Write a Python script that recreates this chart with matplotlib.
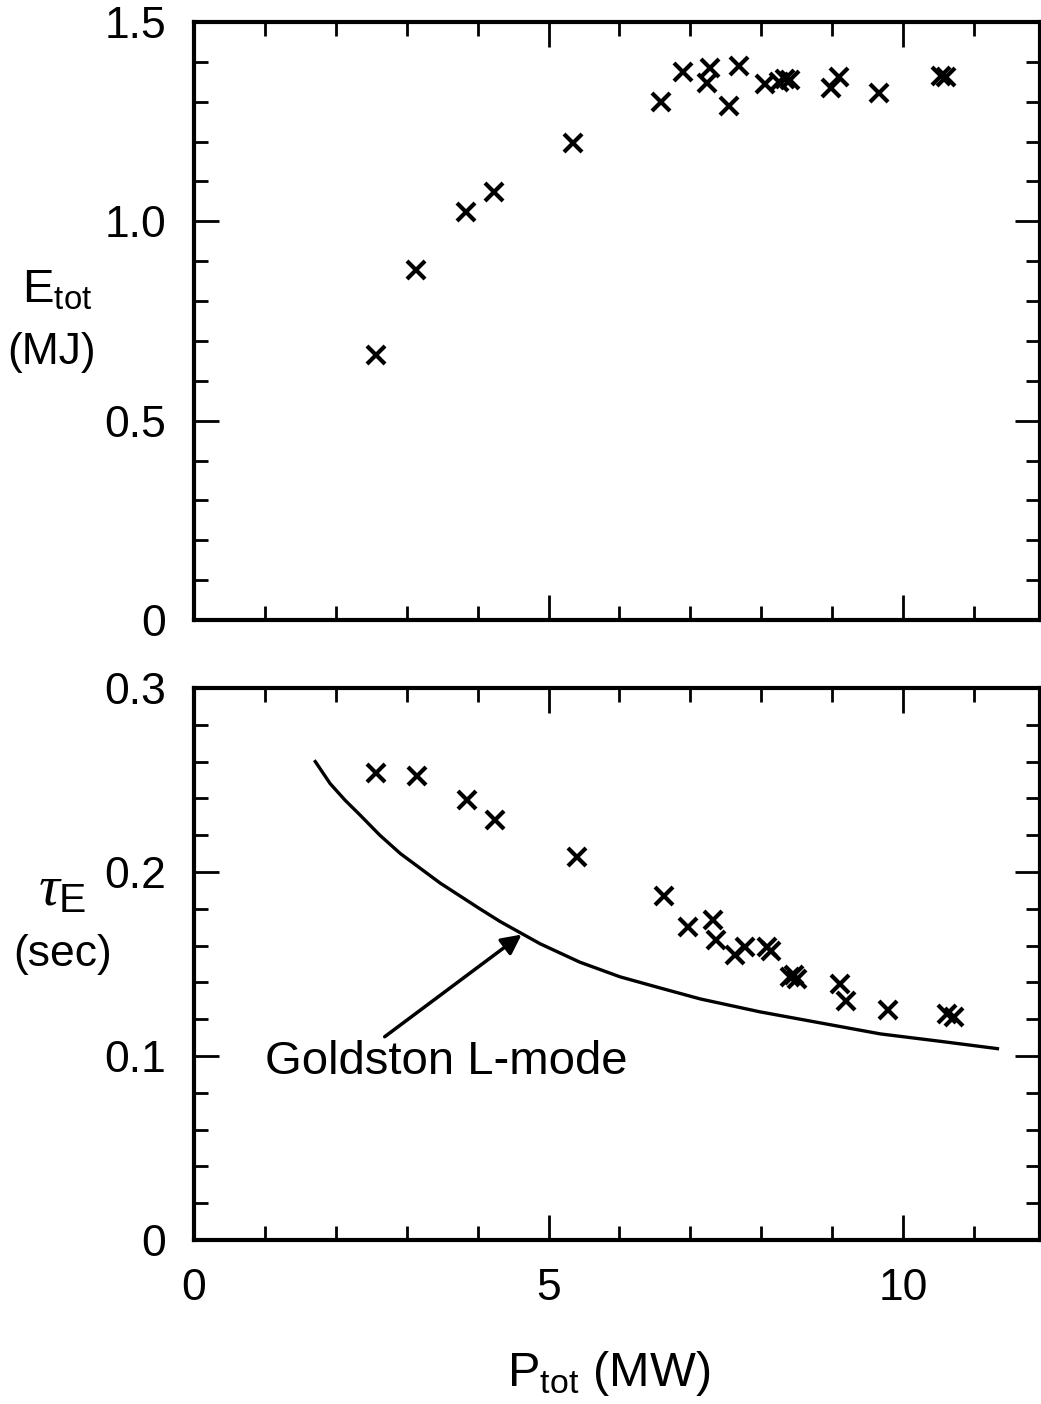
import matplotlib
matplotlib.use("Agg")
import matplotlib.pyplot as plt
from matplotlib.ticker import MultipleLocator

plt.rcParams['font.family'] = ['Liberation Sans', 'DejaVu Sans']
plt.rcParams['mathtext.fontset'] = 'custom'
plt.rcParams['mathtext.rm'] = 'Liberation Sans'
plt.rcParams['mathtext.it'] = 'Liberation Serif:italic'

# energie totale en fonction de la puissance
p_tot_e = [2.57, 3.13, 3.84, 4.23, 5.35, 6.59, 6.90, 7.24, 7.28, 7.55, 7.69,
           8.05, 8.25, 8.33, 8.40, 8.98, 9.10, 9.66, 10.54, 10.61]
e_tot = [0.665, 0.878, 1.023, 1.073, 1.196, 1.300, 1.374, 1.347, 1.384, 1.289, 1.390,
         1.344, 1.350, 1.356, 1.354, 1.334, 1.362, 1.322, 1.364, 1.362]

# temps de confinement
p_tot_tau = [2.57, 3.15, 3.85, 4.25, 5.40, 6.63, 6.97, 7.32, 7.36, 7.63, 7.77,
             8.08, 8.14, 8.41, 8.46, 8.50, 9.11, 9.20, 9.79, 10.62, 10.72]
tau_e = [0.254, 0.252, 0.239, 0.228, 0.208, 0.187, 0.170, 0.174, 0.163, 0.155, 0.159,
         0.159, 0.157, 0.143, 0.144, 0.142, 0.139, 0.130, 0.125, 0.123, 0.121]

# courbe Goldston L-mode
p_gold = [1.71, 1.92, 2.13, 2.34, 2.62, 2.91, 3.19, 3.47, 3.75, 4.03, 4.32, 4.60,
          4.88, 5.16, 5.44, 6.01, 6.57, 7.14, 7.98, 8.83, 9.68, 10.52, 11.33]
tau_gold = [0.260, 0.248, 0.239, 0.231, 0.220, 0.210, 0.202, 0.194, 0.187, 0.180,
            0.173, 0.167, 0.161, 0.156, 0.151, 0.143, 0.137, 0.131, 0.124, 0.118,
            0.112, 0.108, 0.104]

fig = plt.figure(figsize=(10.41, 14.04), dpi=100)
ax1 = fig.add_axes([0.1864, 0.5584, 0.8126, 0.4259])
ax2 = fig.add_axes([0.1864, 0.1168, 0.8126, 0.3932])

def style(ax):
    for s in ax.spines.values():
        s.set_linewidth(3)
    ax.tick_params(which='both', direction='in', top=True, right=True,
                   width=2, labelsize=32, pad=20)
    ax.tick_params(which='major', length=18)
    ax.tick_params(which='minor', length=10)
    ax.set_xlim(0, 11.93)
    ax.xaxis.set_major_locator(MultipleLocator(5))
    ax.xaxis.set_minor_locator(MultipleLocator(1))

style(ax1)
ax1.plot(p_tot_e, e_tot, 'x', color='black', markersize=13, mew=3)
ax1.set_ylim(0, 1.5)
ax1.yaxis.set_major_locator(MultipleLocator(0.5))
ax1.yaxis.set_minor_locator(MultipleLocator(0.1))
ax1.set_yticks([0, 0.5, 1.0, 1.5])
ax1.set_yticklabels(['0', '0.5', '1.0', '1.5'])
ax1.tick_params(labelbottom=False)

style(ax2)
ax2.plot(p_tot_tau, tau_e, 'x', color='black', markersize=13, mew=3)
ax2.plot(p_gold, tau_gold, '-', color='black', lw=2.4)
ax2.set_ylim(0, 0.3)
ax2.yaxis.set_major_locator(MultipleLocator(0.1))
ax2.yaxis.set_minor_locator(MultipleLocator(0.02))
ax2.set_yticks([0, 0.1, 0.2, 0.3])
ax2.set_yticklabels(['0', '0.1', '0.2', '0.3'])
ax2.set_xticks([0, 5, 10])
ax2.set_xticklabels(['0', '5', '10'])

ax2.annotate('Goldston L-mode', xy=(4.62, 0.166), xytext=(1.0, 0.097),
             fontsize=34, va='center', ha='left',
             arrowprops=dict(arrowstyle='-|>', color='black', lw=2.5,
                             mutation_scale=30, shrinkA=0, shrinkB=0,
                             relpos=(0.32, 1.0)))

fig.text(0.055, 0.793, r'$\mathregular{E_{tot}}$', fontsize=34, ha='center', va='center')
fig.text(0.05, 0.749, '(MJ)', fontsize=32, ha='center', va='center')
fig.text(0.06, 0.366, r'$\tau_\mathregular{E}$', fontsize=42, ha='center', va='center')
fig.text(0.06, 0.320, '(sec)', fontsize=32, ha='center', va='center')
fig.text(0.585, 0.022, r'$\mathregular{P_{tot}}$ (MW)', fontsize=35, ha='center', va='center')

fig.savefig('out.png', dpi=100)
